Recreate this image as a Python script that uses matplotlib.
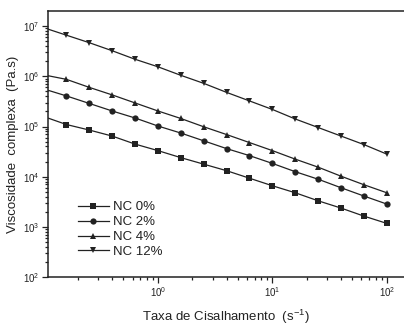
import numpy as np
import matplotlib.pyplot as plt
from matplotlib.ticker import LogLocator, NullFormatter

plt.rcParams['font.family'] = ['Liberation Sans', 'DejaVu Sans']
plt.rcParams['mathtext.fontset'] = 'custom'
plt.rcParams['mathtext.rm'] = 'Liberation Sans'
plt.rcParams['mathtext.it'] = 'Liberation Sans:italic'
plt.rcParams['mathtext.bf'] = 'Liberation Sans:bold'

# shear rate, 0.2 decade steps from 0.1 to 100 s^-1
log_rate = [-1.0, -0.8, -0.6, -0.4, -0.2, 0.0, 0.2, 0.4, 0.6, 0.8,
            1.0, 1.2, 1.4, 1.6, 1.8, 2.0]

# log10 of complex viscosity (Pa.s)
nc0 = [5.20, 5.04, 4.93, 4.81, 4.65, 4.52, 4.38, 4.25, 4.12, 3.97,
       3.82, 3.68, 3.52, 3.375, 3.215, 3.07]
nc2 = [5.75, 5.61, 5.46, 5.31, 5.17, 5.01, 4.87, 4.715, 4.56, 4.42,
       4.265, 4.10, 3.95, 3.78, 3.615, 3.455]
nc4 = [6.03, 5.94, 5.78, 5.63, 5.47, 5.31, 5.16, 4.995, 4.84, 4.68,
       4.52, 4.35, 4.19, 4.01, 3.84, 3.68]
nc12 = [6.97, 6.82, 6.67, 6.51, 6.34, 6.19, 6.02, 5.86, 5.68, 5.51,
        5.34, 5.15, 4.98, 4.81, 4.64, 4.45]

labels = ['NC 0%', 'NC 2%', 'NC 4%', 'NC 12%']
markers = ['s', 'o', '^', 'v']

ink = '#222222'

fig = plt.figure(figsize=(4.04, 3.26), dpi=100)
ax = fig.add_axes([0.119, 0.150, 0.881, 0.816])

x = 10 ** np.array(log_rate)
for series, mk, lab in zip([nc0, nc2, nc4, nc12], markers, labels):
    ax.plot(x, 10 ** np.array(series), color=ink, lw=0.9, marker=mk,
            markersize=4.5, markeredgewidth=0, label=lab)

ax.set_xscale('log')
ax.set_yscale('log')
ax.set_xlim(10 ** -0.96, 10 ** 2.15)
ax.set_ylim(1e2, 10 ** 7.3)

ax.xaxis.set_major_locator(LogLocator(base=10, numticks=10))
ax.xaxis.set_minor_locator(LogLocator(base=10, subs=np.arange(2, 10), numticks=10))
ax.yaxis.set_major_locator(LogLocator(base=10, numticks=10))
ax.yaxis.set_minor_locator(LogLocator(base=10, subs=np.arange(2, 10), numticks=10))
ax.xaxis.set_minor_formatter(NullFormatter())
ax.yaxis.set_minor_formatter(NullFormatter())

ax.tick_params(which='both', direction='out', colors=ink, labelcolor=ink,
               top=False, right=False, labelsize=7, width=0.9)
ax.tick_params(which='major', length=4, pad=2)
ax.tick_params(which='minor', length=2.2)

for side in ['left', 'bottom', 'top']:
    ax.spines[side].set_color(ink)
    ax.spines[side].set_linewidth(1.1)
ax.spines['right'].set_visible(False)

ax.set_xlabel('Taxa de Cisalhamento  (s$^{-1}$)', fontsize=9.5, color=ink, labelpad=6)
ax.set_ylabel('Viscosidade  complexa  (Pa.s)', fontsize=9.5, color=ink, labelpad=3)

ax.legend(loc='upper left', bbox_to_anchor=(0.07, 0.305), frameon=False,
          fontsize=9.5, handlelength=2.3, handletextpad=0.3, labelspacing=0.2,
          borderaxespad=0, labelcolor=ink)

fig.savefig('out.png', dpi=100)
